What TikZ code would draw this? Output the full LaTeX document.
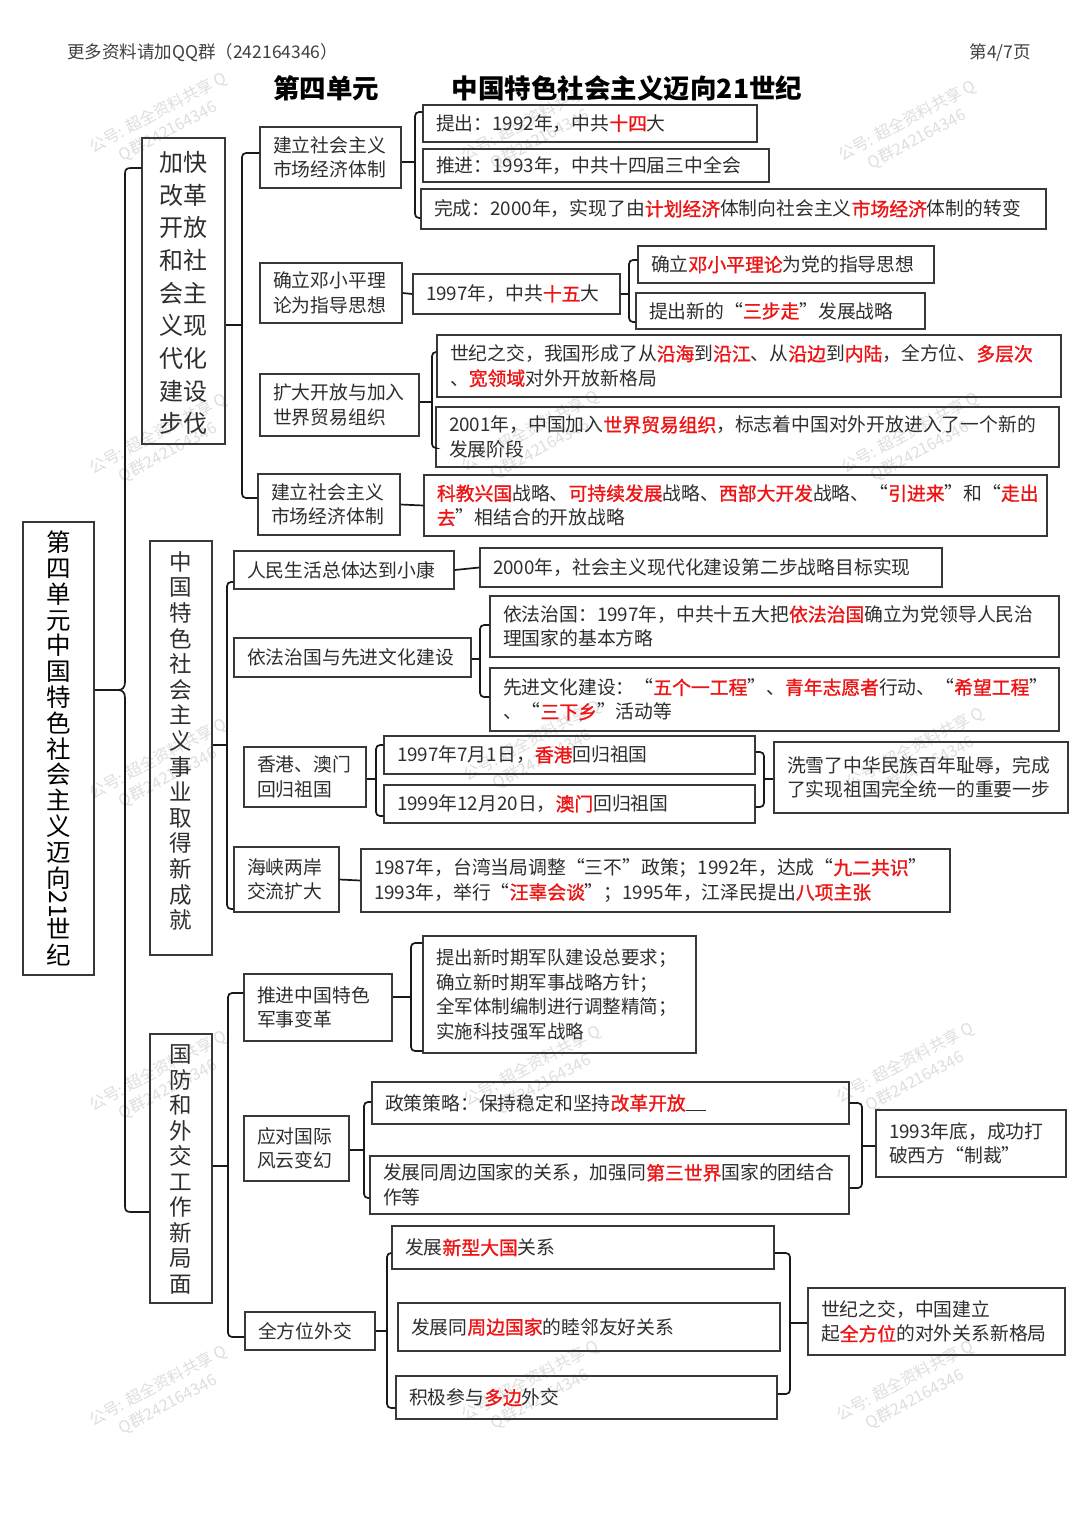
\documentclass[tikz,border=0pt]{standalone}
\usepackage{fontspec}
\setmainfont{Noto Sans CJK SC}
\newfontfamily\redfont{Noto Sans CJK SC}[FakeBold=1.2]
\usepackage{graphicx}
\definecolor{hlred}{RGB}{238,20,20}
\newcommand\fsz[2]{\fontsize{#1pt}{#2pt}\selectfont}
\newcommand\hl[1]{{\redfont\color{hlred}#1}}
% box by corners: [opts]{name}{x1}{y1}{x2}{y2}{text}
\newcommand\putbox[7][]{%
  \pgfmathsetmacro\bxw{#5-#3}%
  \pgfmathsetmacro\bxh{#6-#4}%
  \pgfmathsetmacro\bxt{#5-#3-26}%
  \pgfmathsetmacro\bxcx{(#3+#5)/2}%
  \pgfmathsetmacro\bxcy{(#4+#6)/2}%
  \node[boxst,minimum width=\bxw pt,minimum height=\bxh pt,text width=\bxt pt,#1] (#2) at (\bxcx,\bxcy) {#7};}
% vertical-text box: [text opts]{name}{x1}{y1}{x2}{y2}{dy}{text}
\newcommand\putvbox[8][]{%
  \pgfmathsetmacro\bxw{#5-#3}%
  \pgfmathsetmacro\bxh{#6-#4}%
  \pgfmathsetmacro\bxcx{(#3+#5)/2}%
  \pgfmathsetmacro\bxcy{(#4+#6)/2}%
  \pgfmathsetmacro\bxty{(#4+#6)/2+#7}%
  \node[vbox,minimum width=\bxw pt,minimum height=\bxh pt] (#2) at (\bxcx,\bxcy) {};
  \node[vtext,#1] (#2-t) at (\bxcx,\bxty) {#8};}
\begin{document}
\begin{tikzpicture}[x=1pt,y=-1pt,
  boxst/.style={draw=black!78,line width=1.3pt,inner xsep=13pt,inner ysep=0pt,align=left,font=\fsz{18.8}{24.5},text=black!82},
  vbox/.style={draw=black!78,line width=1.3pt,inner sep=0pt},
  vtext/.style={inner sep=0pt,align=center,text=black!82},
  conn/.style={line width=1.7pt,black!90,rounded corners=4pt},
  wm/.style={rotate=28,font=\fsz{16}{21},text=black!13,align=center,inner sep=0pt},
  hd/.style={font=\fsz{17.5}{20},text=black!75,inner sep=0pt},
  ttl/.style={font=\bfseries\fsz{26.5}{30},text=black,inner sep=0pt}]
\fill[white] (0,0) rectangle (1080,1527);
\useasboundingbox (0,0) rectangle (1080,1527);

% watermarks
\foreach \wx/\wy [count=\wi] in {163/122,535/130,912/130,163/443,535/440,915/442,163/768,537/750,920/757,163/1080,537/1075,910/1072,163/1395,535/1390,910/1390}{
  \node[wm] (wm\wi) at (\wx,\wy) {公号: 超全资料共享 Q\\Q群242164346};
}

% header and title
\node[hd,anchor=west] (hdr) at (67,53) {更多资料请加QQ群（242164346）};
\node[hd,anchor=east] (pg) at (1031,53) {第4/7页};
\node[ttl] (t1) at (326,88) {第四单元};
\node[ttl] (t2) at (627,88) {中国特色社会主义迈向21世纪};

% level 0 / 1
\putvbox[font=\fsz{24.5}{25.8},text=black]{R}{23}{522}{94}{975}{0}{第\\四\\单\\元\\中\\国\\特\\色\\社\\会\\主\\义\\迈\\向\\\rotatebox[origin=c]{-90}{21}\\世\\纪}
\putvbox[font=\fsz{24}{32.7}]{A}{142}{138}{225}{444}{2}{加快\\改革\\开放\\和社\\会主\\义现\\代化\\建设\\步伐}
\putvbox[font=\fsz{22.5}{25.6}]{B}{150}{541}{212}{955}{-7}{中\\国\\特\\色\\社\\会\\主\\义\\事\\业\\取\\得\\新\\成\\就}
\putvbox[font=\fsz{22.5}{25.5}]{C}{150}{1034}{212}{1303}{1}{国\\防\\和\\外\\交\\工\\作\\新\\局\\面}

% group A
\putbox{A1}{260}{127}{401}{188}{建立社会主义\\市场经济体制}
\putbox{A1a}{423}{105}{757}{142}{提出：1992年，中共\hl{十四}大}
\putbox{A1b}{423}{149}{769}{182}{推进：1993年，中共十四届三中全会}
\putbox{A1c}{421}{189}{1046}{229}{完成：2000年，实现了由\hl{计划经济}体制向社会主义\hl{市场经济}体制的转变}
\putbox{A2}{260}{263}{402}{323}{确立邓小平理\\论为指导思想}
\putbox{A2m}{413}{274}{620}{314}{1997年，中共\hl{十五}大}
\putbox{A2a}{638}{246}{934}{283}{确立\hl{邓小平理论}为党的指导思想}
\putbox{A2b}{636}{293}{925}{329}{提出新的“\hl{三步走}”发展战略}
\putbox{A3}{260}{374}{419}{436}{扩大开放与加入\\世界贸易组织}
\putbox{A3a}{437}{335}{1061}{397}{世纪之交，我国形成了从\hl{沿海}到\hl{沿江}、从\hl{沿边}到\hl{内陆}，全方位、\hl{多层次}\\、\hl{宽领域}对外开放新格局}
\putbox{A3b}{436}{407}{1059}{467}{2001年，中国加入\hl{世界贸易组织}，标志着中国对外开放进入了一个新的\\发展阶段}
\putbox{A4}{258}{474}{400}{535}{建立社会主义\\市场经济体制}
\putbox{A4c}{424}{475}{1047}{536}{\hl{科教兴国}战略、\hl{可持续发展}战略、\hl{西部大开发}战略、“\hl{引进来}”和“\hl{走出}\\\hl{去}”相结合的开放战略}

% group B
\putbox{B1}{234}{551}{454}{589}{人民生活总体达到小康}
\putbox{B1c}{480}{548}{942}{587}{2000年，社会主义现代化建设第二步战略目标实现}
\putbox{B2}{234}{638}{471}{677}{依法治国与先进文化建设}
\putbox{B2a}{490}{596}{1059}{657}{依法治国：1997年，中共十五大把\hl{依法治国}确立为党领导人民治\\理国家的基本方略}
\putbox{B2b}{490}{668}{1059}{731}{先进文化建设：“\hl{五个一工程}”、\hl{青年志愿者}行动、“\hl{希望工程}”\\、“\hl{三下乡}”活动等}
\putbox{B3}{244}{747}{366}{807}{香港、澳门\\回归祖国}
\putbox{B3a}{384}{736}{755}{774}{1997年7月1日，\hl{香港}回归祖国}
\putbox{B3b}{384}{785}{755}{823}{1999年12月20日，\hl{澳门}回归祖国}
\putbox{B3r}{774}{742}{1068}{813}{洗雪了中华民族百年耻辱，完成\\了实现祖国完全统一的重要一步}
\putbox{B4}{234}{847}{339}{912}{海峡两岸\\交流扩大}
\putbox{B4c}{361}{849}{950}{912}{1987年，台湾当局调整“三不”政策；1992年，达成“\hl{九二共识}”\\1993年，举行“\hl{汪辜会谈}”；1995年，江泽民提出\hl{八项主张}}

% group C
\putbox{C1}{244}{974}{392}{1041}{推进中国特色\\军事变革}
\putbox[font=\fsz{18.5}{24.7}]{C1c}{423}{936}{696}{1053}{提出新时期军队建设总要求；\\确立新时期军事战略方针；\\全军体制编制进行调整精简；\\实施科技强军战略}
\putbox{C2}{244}{1116}{349}{1181}{应对国际\\风云变幻}
\putbox{C2a}{372}{1082}{849}{1124}{政策策略：保持稳定和坚持\hl{改革开放}\rule[-1pt]{20pt}{1.2pt}}
\putbox{C2b}{370}{1156}{849}{1214}{发展同周边国家的关系，加强同\hl{第三世界}国家的团结合\\作等}
\putbox{C2r}{876}{1110}{1066}{1177}{1993年底，成功打\\破西方“制裁”}
\putbox{C3}{245}{1312}{375}{1350}{全方位外交}
\putbox{C3a}{392}{1226}{774}{1269}{发展\hl{新型大国}关系}
\putbox{C3b}{398}{1303}{780}{1351}{发展同\hl{周边国家}的睦邻友好关系}
\putbox{C3c}{396}{1376}{777}{1419}{积极参与\hl{多边}外交}
\putbox{C3r}{808}{1288}{1065}{1355}{世纪之交，中国建立\\起\hl{全方位}的对外关系新格局}

% ---------- connectors ----------
\coordinate (rt) at (118,690);
\draw[conn,rounded corners=0pt] (R.east |- rt) -- (rt);
\draw[line width=1.7pt,black!90] (A.west |- 0,168) -- (131,168) .. controls (126,168) and (125,170) .. (125,174) -- (125,682) .. controls (125,688) and (122,690) .. (rt) .. controls (122,690) and (125,692) .. (125,698) -- (125,1206) .. controls (125,1210) and (126,1212) .. (131,1212) -- (C.west |- 0,1212);

% A
\draw[conn] (A.east |- 0,325) -- (242,325);
\draw[conn] (A1.west |- 0,153) -- (242,153) -- (242,498) -- (A4.west |- 0,498);
\draw[conn] (A1.east |- 0,162) -- (415,162);
\draw[conn] (A1a.west |- 0,112) -- (415,112) -- (415,218) -- (A1c.west |- 0,218);
\draw[conn] (A2.east) -- (A2m.west);
\draw[conn] (A2m.east) -- (A2m.east -| 629,0);
\draw[conn] (A2a.west |- 0,260) -- (629,260) -- (629,322) -- (A2b.west |- 0,322);
\draw[conn] (A3.east |- 0,402) -- (432,402);
\draw[conn] (A3a.west |- 0,352) -- (432,352) -- (432,448) -- (A3b.west |- 0,448);
\draw[conn] (A4.east) -- (A4c.west);

% B
\draw[conn] (B.east |- 0,745) -- (227,745);
\draw[conn] (B1.west |- 0,582) -- (227,582) -- (227,909) -- (B4.west |- 0,909);
\draw[conn] (B1.east) -- (B1c.west);
\draw[conn] (B2.east |- 0,659) -- (480,659);
\draw[conn] (B2a.west |- 0,625) -- (480,625) -- (480,697) -- (B2b.west |- 0,697);
\draw[conn] (B3.east |- 0,779) -- (376,779);
\draw[conn] (B3a.west |- 0,745) -- (376,745) -- (376,816) -- (B3b.west |- 0,816);
\draw[conn] (B3a.east |- 0,752) -- (764,752) -- (764,807) -- (B3b.east |- 0,807);
\draw[conn] (764,779) -- (B3r.west |- 0,779);
\draw[conn] (B4.east) -- (B4c.west);

% C
\draw[conn] (C.east |- 0,1166) -- (228,1166);
\draw[conn] (C1.west |- 0,993) -- (228,993) -- (228,1337) -- (C3.west |- 0,1337);
\draw[conn] (C1.east |- 0,997) -- (411,997);
\draw[conn] (C1c.west |- 0,943) -- (411,943) -- (411,1051) -- (C1c.west |- 0,1051);
\draw[conn] (C2.east |- 0,1150) -- (364,1150);
\draw[conn] (C2a.west |- 0,1102) -- (364,1102) -- (364,1198) -- (C2b.west |- 0,1198);
\draw[conn] (C2a.east |- 0,1103) -- (862,1103) -- (862,1188) -- (C2b.east |- 0,1188);
\draw[conn] (862,1146) -- (C2r.west |- 0,1146);
\draw[conn] (C3.east |- 0,1331) -- (387,1331);
\draw[conn] (C3a.west |- 0,1253) -- (387,1253) -- (387,1408) -- (C3c.west |- 0,1408);
\draw[conn] (C3a.east |- 0,1253) -- (790,1253) -- (790,1394) -- (C3c.east |- 0,1394);
\draw[conn] (790,1323) -- (C3r.west |- 0,1323);
\end{tikzpicture}
\end{document}
